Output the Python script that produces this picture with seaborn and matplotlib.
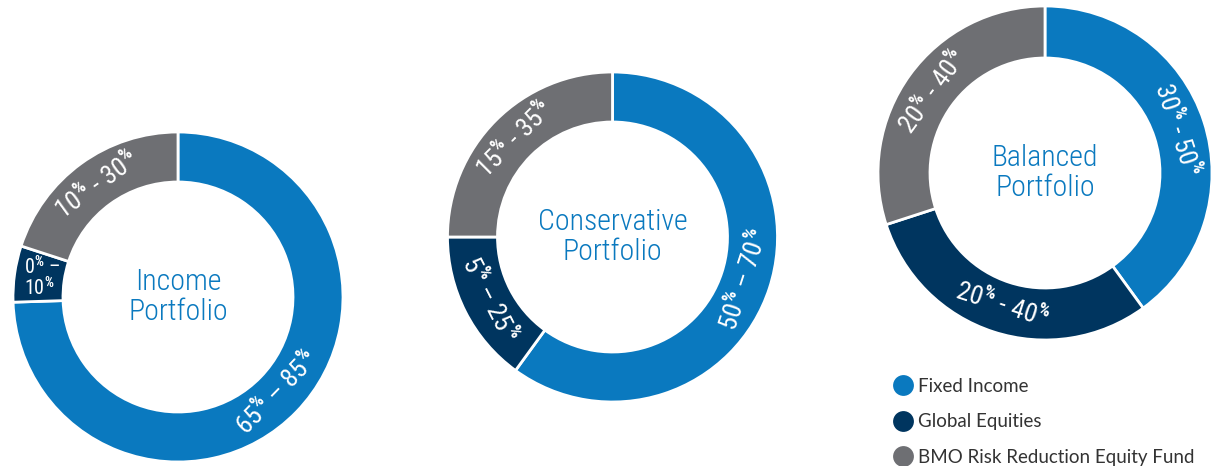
import numpy as np
import seaborn as sns
import matplotlib.pyplot as plt
from matplotlib import font_manager
from matplotlib.lines import Line2D

sns.set_theme(style='white')

names = {f.name for f in font_manager.fontManager.ttflist}


def pick(cands):
    for c in cands:
        if c in names:
            return c
    return 'DejaVu Sans'


narrow = pick(['Roboto Condensed', 'Fira Sans Condensed', 'Open Sans Condensed', 'Lato'])
plain = pick(['Lato', 'Open Sans', 'Noto Sans'])
plt.rcParams['font.family'] = [narrow, 'DejaVu Sans']
plt.rcParams['mathtext.fontset'] = 'custom'
plt.rcParams['mathtext.rm'] = narrow + ':weight=600'
plt.rcParams['mathtext.it'] = narrow + ':weight=600'
plt.rcParams['mathtext.bf'] = narrow + ':bold'
plt.rcParams['mathtext.default'] = 'rm'

# data
asset_classes = ['Fixed Income', 'Global Equities', 'BMO Risk Reduction Equity Fund']
portfolios = ['Income\nPortfolio', 'Conservative\nPortfolio', 'Balanced\nPortfolio']
income_mix = [74.5, 5.5, 20]
conservative_mix = [60, 15, 25]
balanced_mix = [40, 30, 30]
income_labels = [r'65$^{\%}$ – 85$^{\%}$', '0$^{\\%}$ –\n10$^{\\%}$', r'10$^{\%}$ - 30$^{\%}$']
conservative_labels = [r'50$^{\%}$ – 70$^{\%}$', r'5$^{\%}$ – 25$^{\%}$', r'15$^{\%}$ - 35$^{\%}$']
balanced_labels = [r'30$^{\%}$ - 50$^{\%}$', r'20$^{\%}$ - 40$^{\%}$', r'20$^{\%}$ - 40$^{\%}$']

palette = sns.color_palette(['#0A79BF', '#00355F', '#6E6F73'])
title_color = '#0A79BF'

W, H = 1222, 466
fig = plt.figure(figsize=(W / 100, H / 100), dpi=100)
ax = fig.add_axes([0, 0, 1, 1])

# layout in pixels (x, y from bottom), outer radius
layout = [((178, H - 297), 165), ((612.5, H - 237), 165), ((1045, H - 173), 167)]
mixes = [income_mix, conservative_mix, balanced_mix]
labels = [income_labels, conservative_labels, balanced_labels]

for (center, radius), mix, labs, title in zip(layout, mixes, labels, portfolios):
    wedges, _ = ax.pie(mix, colors=palette, startangle=90, counterclock=False,
                       center=center, radius=radius,
                       wedgeprops=dict(width=radius - 115, edgecolor='white', linewidth=2))
    r_lab = (radius + 115) / 2 - 2
    for w, lab in zip(wedges, labs):
        phi = np.deg2rad((w.theta1 + w.theta2) / 2)
        x = center[0] + r_lab * np.cos(phi)
        y = center[1] + r_lab * np.sin(phi)
        if '\n' in lab:
            ax.text(x + 1, y, lab, color='white', ha='center', va='center',
                    fontsize=14.5, linespacing=0.85, multialignment='left')
            continue
        deg = np.rad2deg(phi)
        rot = deg - 90 if np.sin(phi) > 0 else deg + 90
        rot = (rot + 180) % 360 - 180
        ax.text(x, y, lab, color='white', ha='center', va='center', fontsize=19,
                rotation=rot, rotation_mode='anchor')
    ax.text(center[0], center[1], title, color=title_color, ha='center', va='center',
            fontsize=21.5, fontweight=300, linespacing=1.1)

ax.set_xlim(0, W)
ax.set_ylim(0, H)
ax.set_aspect('equal')
ax.axis('off')

handles = [Line2D([], [], marker='o', ls='', markersize=15, markerfacecolor=c,
                  markeredgecolor='none') for c in palette]
ax.legend(handles, asset_classes, loc='upper left', bbox_to_anchor=(886 / W, 1 - 370 / H),
          frameon=False, prop={'family': plain, 'size': 13.5}, handlelength=1.0,
          handletextpad=0.3, labelspacing=1.0, borderaxespad=0, labelcolor='#333333')

fig.savefig('out.png', dpi=100)
